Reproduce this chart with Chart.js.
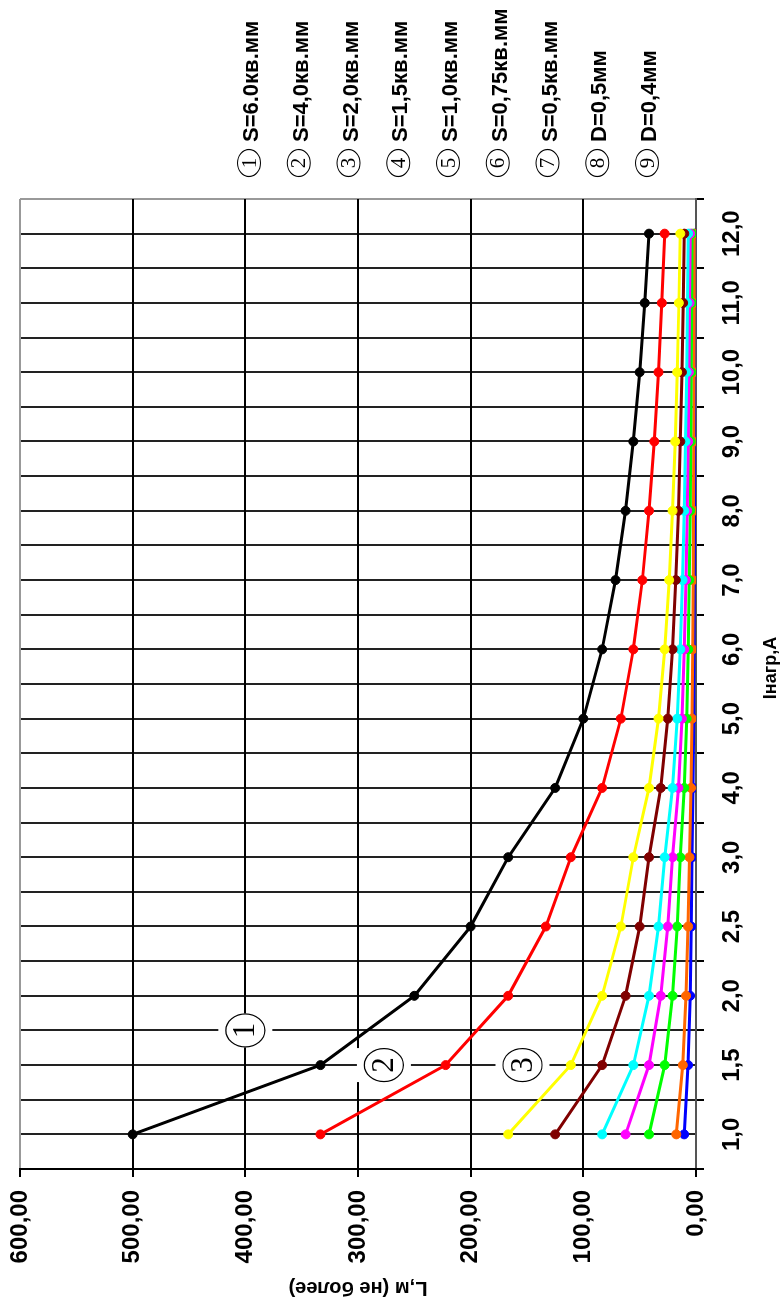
<!DOCTYPE html>
<html>
<head>
<meta charset="utf-8">
<script src="https://cdn.jsdelivr.net/npm/chart.js@4.4.0/dist/chart.umd.min.js"></script>
<style>
  html, body { margin: 0; padding: 0; background: #fff; width: 783px; height: 1300px; overflow: hidden; }
  /* chart is laid out landscape, then turned a quarter to the left */
  #wrap { position: absolute; left: 0; top: 0; width: 1300px; height: 783px;
          transform-origin: 0 0; transform: translate(0, 1300px) rotate(-90deg); }
</style>
</head>
<body>
<div id="wrap"><canvas id="lenChart" width="1300" height="783"></canvas></div>
<script>
// load current, A
const labels = ['1,0', '1,5', '2,0', '2,5', '3,0', '4,0', '5,0', '6,0', '7,0', '8,0', '9,0', '10,0', '11,0', '12,0'];

// max line length, m
const s60  = [500, 333.3, 250, 200, 166.7, 125, 100, 83.3, 71.4, 62.5, 55.6, 50, 45.5, 41.7];
const s40  = [333.3, 222.2, 166.7, 133.3, 111.1, 83.3, 66.7, 55.6, 47.6, 41.7, 37.0, 33.3, 30.3, 27.8];
const s20  = [166.7, 111.1, 83.3, 66.7, 55.6, 41.7, 33.3, 27.8, 23.8, 20.8, 18.5, 16.7, 15.2, 13.9];
const s15  = [125, 83.3, 62.5, 50, 41.7, 31.3, 25, 20.8, 17.9, 15.6, 13.9, 12.5, 11.4, 10.4];
const s10  = [83.3, 55.6, 41.7, 33.3, 27.8, 20.8, 16.7, 13.9, 11.9, 10.4, 9.3, 8.3, 7.6, 6.9];
const s075 = [62.5, 41.7, 31.3, 25, 20.8, 15.6, 12.5, 10.4, 8.9, 7.8, 6.9, 6.3, 5.7, 5.2];
const s05  = [41.7, 27.8, 20.8, 16.7, 13.9, 10.4, 8.3, 6.9, 6.0, 5.2, 4.6, 4.2, 3.8, 3.5];
const d05  = [17.5, 11.7, 8.8, 7.0, 5.8, 4.4, 3.5, 2.9, 2.5, 2.2, 1.9, 1.8, 1.6, 1.5];
const d04  = [10.5, 7.0, 5.2, 4.2, 3.5, 2.6, 2.1, 1.7, 1.5, 1.3, 1.2, 1.0, 1.0, 0.9];

const seriesNames = ['S=6.0кв.мм', 'S=4,0кв.мм', 'S=2,0кв.мм', 'S=1,5кв.мм', 'S=1,0кв.мм',
                     'S=0,75кв.мм', 'S=0,5кв.мм', 'D=0,5мм', 'D=0,4мм'];
const seriesData = [s60, s40, s20, s15, s10, s075, s05, d05, d04];
const colors = ['#000000', '#ff0000', '#ffff00', '#800000', '#00ffff', '#ff00ff', '#00ff00', '#ff6600', '#0000ff'];

// circled numbers placed on the curves (category index, value)
const callouts = [
  { text: '1', at: 1.5, val: 400 },
  { text: '2', at: 1, val: 277 },
  { text: '3', at: 1, val: 154 }
];

const sansBold = '"Liberation Sans", Arial, sans-serif';

// numbered key on the right side, callouts and the x title
const keyPlugin = {
  id: 'numberedKey',
  afterDraw(chart) {
    const ctx = chart.ctx;
    const xs = chart.scales.x, ys = chart.scales.y;
    ctx.save();
    ctx.textAlign = 'center';
    ctx.textBaseline = 'middle';

    callouts.forEach(c => {
      const px = xs.getPixelForValue(c.at);
      const py = ys.getPixelForValue(c.val);
      ctx.fillStyle = '#fff';
      ctx.fillRect(px - 17, py - 27, 34, 54);
      ctx.beginPath();
      ctx.ellipse(px, py, 16.5, 19.5, 0, 0, Math.PI * 2);
      ctx.strokeStyle = '#000';
      ctx.lineWidth = 1.2;
      ctx.stroke();
      ctx.fillStyle = '#000';
      ctx.font = '31px "Liberation Serif", "DejaVu Serif", serif';
      ctx.fillText(c.text, px, py + 1);
    });

    seriesNames.forEach((name, i) => {
      const cy = 249 + 49.75 * i;
      const cx = 1137;
      ctx.beginPath();
      ctx.ellipse(cx, cy, 13.5, 11.5, 0, 0, Math.PI * 2);
      ctx.strokeStyle = '#000';
      ctx.lineWidth = 1.2;
      ctx.stroke();
      ctx.fillStyle = '#000';
      ctx.textAlign = 'center';
      ctx.font = '21px "Liberation Serif", "DejaVu Serif", serif';
      ctx.fillText(String(i + 1), cx, cy + 1);
      ctx.textAlign = 'left';
      ctx.font = 'bold 22px ' + sansBold;
      ctx.fillText(name, 1158, cy + 3);
    });

    // x axis title, sits a little right of centre in the original
    const area = chart.chartArea;
    ctx.textAlign = 'center';
    ctx.font = 'bold 18px ' + sansBold;
    ctx.fillText('Iнагр,A', (area.left + area.right) / 2 + 16, 771);
    ctx.restore();
  }
};

const datasets = seriesData.map((d, i) => ({
  label: seriesNames[i],
  data: d,
  borderColor: colors[i],
  backgroundColor: colors[i],
  pointBackgroundColor: colors[i],
  pointBorderColor: colors[i],
  borderWidth: 3,
  pointRadius: 4.5,
  pointBorderWidth: 1,
  tension: 0
}));

const tickFont = { family: sansBold, size: 24, weight: 'bold' };

new Chart(document.getElementById('lenChart'), {
  type: 'line',
  data: { labels: labels, datasets: datasets },
  options: {
    responsive: false,
    animation: false,
    devicePixelRatio: 1,
    events: [],
    layout: { padding: { top: 20, right: 199, left: 0, bottom: 0 } },
    plugins: { legend: { display: false }, tooltip: { enabled: false } },
    scales: {
      x: {
        type: 'category',
        offset: true,
        grid: {
          offset: true,
          color: ctx => ctx.type === 'tick' ? '#222' : '#999',
          lineWidth: 2,
          tickLength: 8,
          tickColor: '#000'
        },
        border: { color: '#555', width: 2 },
        ticks: { font: tickFont, color: '#000', padding: 14, maxRotation: 0, autoSkip: false },
        afterFit: s => { s.height = 87; s.paddingLeft = 0; s.paddingRight = 0; }
      },
      x2: {
        type: 'category',
        position: 'top',
        offset: true,
        grid: { offset: false, color: '#222', lineWidth: 2, drawTicks: false, tickLength: 0 },
        border: { display: false },
        ticks: { display: false },
        afterFit: s => { s.height = 0; s.paddingLeft = 0; s.paddingRight = 0; }
      },
      y: {
        min: 0,
        max: 600,
        ticks: {
          stepSize: 100,
          font: tickFont,
          color: '#000',
          padding: 13,
          callback: v => v.toFixed(2).replace('.', ',')
        },
        grid: {
          color: ctx => {
            if (!ctx.tick) return '#000';
            if (ctx.tick.value === 600) return '#999';
            if (ctx.tick.value === 0) return '#555';
            return '#000';
          },
          lineWidth: 2,
          tickLength: 8,
          tickColor: '#000'
        },
        border: { color: '#000', width: 2 },
        title: {
          display: true,
          text: 'L,м (не более)',
          color: '#000',
          font: { family: sansBold, size: 20, weight: 'bold' },
          padding: { top: 0, bottom: 0 }
        },
        afterFit: s => { s.width = 131; s.paddingTop = 0; s.paddingBottom = 0; }
      }
    }
  },
  plugins: [keyPlugin]
});
</script>
</body>
</html>
